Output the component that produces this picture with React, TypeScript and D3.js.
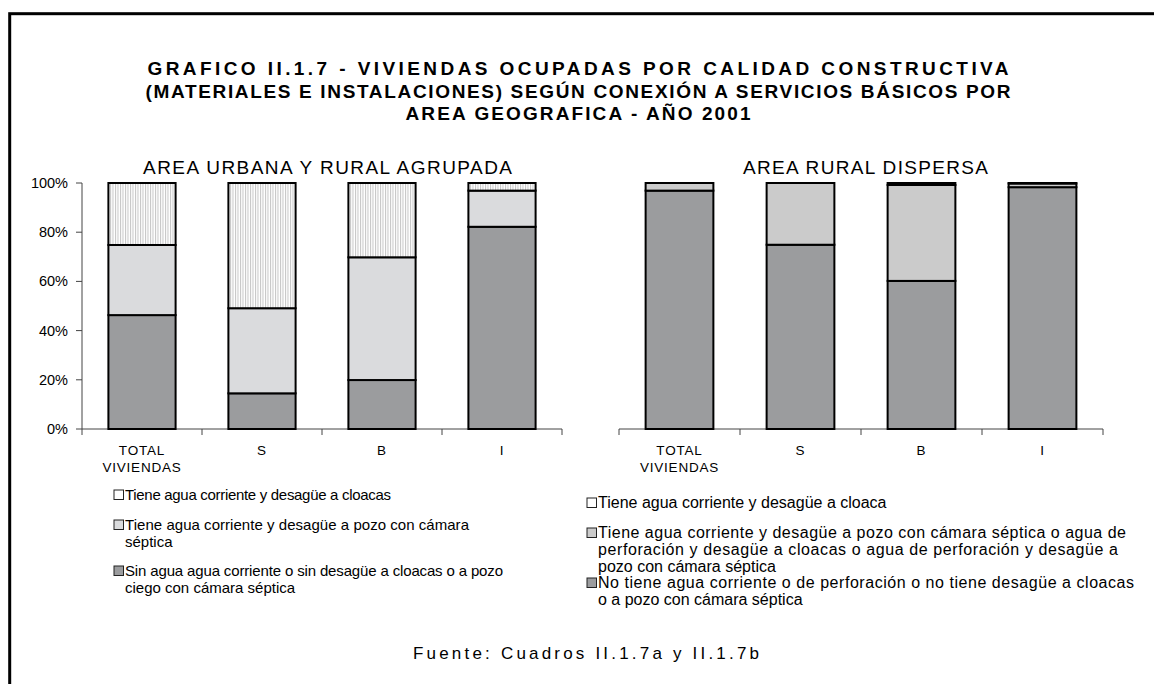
import React from "react";
import * as d3 from "d3";

const categories = ["TOTAL", "S", "B", "I"];
const categoryLines: string[][] = [["TOTAL", "VIVIENDAS"], ["S"], ["B"], ["I"]];

// AREA URBANA Y RURAL AGRUPADA (%)
const urbanSin = [46.3, 14.5, 19.9, 82.2];
const urbanPozo = [28.5, 34.6, 49.9, 14.7];
const urbanCloaca = [25.2, 50.9, 30.2, 3.1];

// AREA RURAL DISPERSA (%)
const ruralNo = [96.9, 74.9, 60.2, 98.3];
const ruralPozo = [3.1, 25.1, 39.0, 1.5];
const ruralCloaca = [0, 0, 0.8, 0.2];

const yTicks = [0, 20, 40, 60, 80, 100];

const titleLines = [
  "GRAFICO II.1.7 - VIVIENDAS OCUPADAS POR CALIDAD CONSTRUCTIVA",
  "(MATERIALES E INSTALACIONES) SEGÚN CONEXIÓN A SERVICIOS BÁSICOS POR",
  "AREA GEOGRAFICA - AÑO 2001",
];

const leftLegend: string[][] = [
  ["Tiene agua corriente y desagüe a cloacas"],
  ["Tiene agua corriente y desagüe a pozo con cámara", "séptica"],
  ["Sin agua agua corriente o sin  desagüe a cloacas o a pozo", "ciego con cámara séptica"],
];
const rightLegend: string[][] = [
  ["Tiene agua corriente y desagüe a cloaca"],
  [
    "Tiene agua corriente y desagüe a pozo con cámara séptica o agua de",
    "perforación y desagüe a cloacas o agua de perforación y desagüe a",
    "pozo con cámara séptica",
  ],
  ["No tiene agua corriente o de perforación o no tiene desagüe a cloacas", "o a pozo con cámara séptica"],
];

const FONT = "Arial, 'Liberation Sans', sans-serif";
const DARK = "#9b9c9e";
const LIGHT_L = "#dadbdd";
const LIGHT_R = "#cbcbcb";

type Panel = {
  title: string;
  titleX: number;
  titleLen: number;
  range: [number, number];
  series: number[][];
  fills: string[];
  showY: boolean;
};

const y = d3.scaleLinear().domain([0, 100]).range([429, 183]);

function buildRows(series: number[][]) {
  return categories.map((c, i) => {
    const o: any = { cat: c };
    series.forEach((s, k) => (o["k" + k] = s[i]));
    return o;
  });
}

function PanelView({ p }: { p: Panel }) {
  const x = d3.scaleBand<string>().domain(categories).range(p.range).paddingInner(0.44).paddingOuter(0.22);
  const keys = p.series.map((_, k) => "k" + k);
  const stacked = d3.stack<any>().keys(keys)(buildRows(p.series));
  const step = x.step();
  const bounds = d3.range(categories.length + 1).map((i) => p.range[0] + i * step);
  return (
    <g>
      <text x={p.titleX} y={174} textAnchor="middle" fontSize={19} fontFamily={FONT} textLength={p.titleLen} lengthAdjust="spacing">
        {p.title}
      </text>
      {p.showY && (
        <g>
          <line x1={p.range[0]} x2={p.range[0]} y1={y(0)} y2={y(100)} stroke="#444" strokeWidth={1} />
          {yTicks.map((t) => (
            <g key={t}>
              <line x1={p.range[0] - 6} x2={p.range[0]} y1={y(t)} y2={y(t)} stroke="#444" />
              <text x={68} y={y(t) + 5} textAnchor="end" fontSize={14.5} fontFamily={FONT}>
                {t}%
              </text>
            </g>
          ))}
        </g>
      )}
      <line x1={p.range[0]} x2={p.range[1]} y1={y(0)} y2={y(0)} stroke="#444" strokeWidth={1} />
      {bounds.map((b, i) => (
        <line key={i} x1={b} x2={b} y1={y(0)} y2={y(0) + 6} stroke="#444" />
      ))}
      {stacked.map((layer, k) =>
        layer.map((d, i) => {
          const h = y(d[0]) - y(d[1]);
          if (h <= 0) return null;
          return (
            <rect
              key={k + "-" + i}
              x={x(categories[i])}
              y={y(d[1])}
              width={x.bandwidth()}
              height={h}
              fill={p.fills[k]}
              stroke="#000"
              strokeWidth={2}
            />
          );
        })
      )}
      {categoryLines.map((lines, i) =>
        lines.map((l, j) => (
          <text
            key={i + "-" + j}
            x={(x(categories[i]) as number) + x.bandwidth() / 2}
            y={455 + j * 16.5}
            textAnchor="middle"
            fontSize={13.5}
            fontFamily={FONT}
            letterSpacing={0.8}
          >
            {l}
          </text>
        ))
      )}
    </g>
  );
}

function Legend({
  x0,
  rows,
  fills,
  lineYs,
  lens,
  fontSize,
}: {
  x0: number;
  rows: string[][];
  fills: string[];
  lineYs: number[];
  lens: (number | null)[][];
  fontSize: number;
}) {
  return (
    <g>
      {rows.map((lines, r) => (
        <g key={r}>
          <rect x={x0} y={lineYs[r] - 10} width={9.5} height={9.5} fill={fills[r]} stroke="#222" strokeWidth={1} />
          {lines.map((l, j) => {
            const len = lens[r][j];
            return (
              <text
                key={j}
                x={x0 + 11}
                y={lineYs[r] + j * 16.8}
                fontSize={fontSize}
                fontFamily={FONT}
                textLength={len ?? undefined}
                lengthAdjust={len ? "spacing" : undefined}
              >
                {l}
              </text>
            );
          })}
        </g>
      ))}
    </g>
  );
}

export default function App() {
  const left: Panel = {
    title: "AREA URBANA Y RURAL AGRUPADA",
    titleX: 327.5,
    titleLen: 369,
    range: [82, 562],
    series: [urbanSin, urbanPozo, urbanCloaca],
    fills: [DARK, LIGHT_L, "url(#vlines)"],
    showY: true,
  };
  const right: Panel = {
    title: "AREA RURAL DISPERSA",
    titleX: 865.5,
    titleLen: 245,
    range: [619, 1103],
    series: [ruralNo, ruralPozo, ruralCloaca],
    fills: [DARK, LIGHT_R, "#ffffff"],
    showY: false,
  };
  return (
    <svg width={1154} height={684} style={{ position: "absolute", left: 0, top: 0, background: "#fff" }}>
      <defs>
        <pattern id="vlines" width={2.5} height={4} patternUnits="userSpaceOnUse">
          <rect width={2.5} height={4} fill="#fff" />
          <line x1={0.5} x2={0.5} y1={0} y2={4} stroke="#c4c4c4" strokeWidth={1} />
        </pattern>
      </defs>
      <rect x={0} y={0} width={1154} height={684} fill="#fff" />
      <rect x={9.7} y={13.7} width={1200} height={720} fill="none" stroke="#000" strokeWidth={3} />
      {titleLines.map((t, i) => (
        <text
          key={i}
          x={578}
          y={75 + i * 22.5}
          textAnchor="middle"
          fontSize={19}
          fontWeight="bold"
          fontFamily={FONT}
          textLength={[861, 865, 345][i]}
          lengthAdjust="spacing"
        >
          {t}
        </text>
      ))}
      <PanelView p={left} />
      <PanelView p={right} />
      <Legend
        x0={114}
        rows={leftLegend}
        fills={["#fff", LIGHT_L, DARK]}
        lineYs={[500, 530, 576]}
        lens={[[266], [344, null], [378, null]]}
        fontSize={15}
      />
      <Legend
        x0={587}
        rows={rightLegend}
        fills={["#fff", LIGHT_R, DARK]}
        lineYs={[508, 538, 588]}
        lens={[[null], [528, 520, null], [536, null]]}
        fontSize={16}
      />
      <text x={586} y={659} textAnchor="middle" fontSize={17} fontFamily={FONT} textLength={346} lengthAdjust="spacing">
        Fuente: Cuadros II.1.7a y II.1.7b
      </text>
    </svg>
  );
}
